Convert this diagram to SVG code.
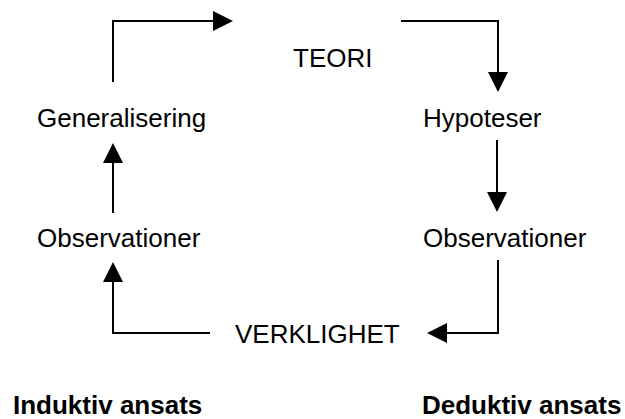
<svg xmlns="http://www.w3.org/2000/svg" width="625" height="419" viewBox="0 0 625 419">
  <style>
    .lbl { font-family: "Liberation Sans", Arial, sans-serif; font-size: 26px; fill: #000; }
    .head { font-family: "Liberation Sans", Arial, sans-serif; font-size: 26px; font-weight: bold; fill: #000; }
    .conn { fill: none; stroke: #000; stroke-width: 2; marker-end: url(#arrow); }
  </style>
  <defs>
    <!-- solid triangular arrowhead, 20 x 20, starting where the line ends -->
    <marker id="arrow" markerUnits="userSpaceOnUse" markerWidth="20" markerHeight="20" refX="0" refY="10" orient="auto">
      <path d="M0,0 L20,10 L0,20 Z" fill="#000"/>
    </marker>
  </defs>
  <rect width="625" height="419" fill="#fff"/>

  <g id="connectors">
    <path class="conn" d="M113,82 V21 H213"/>
    <path class="conn" d="M401,21 H498 V72"/>
    <path class="conn" d="M113,213 V163"/>
    <path class="conn" d="M497,140 V192"/>
    <path class="conn" d="M210,333 H113 V282"/>
    <path class="conn" d="M498,260 V333 H447"/>
  </g>

  <g id="teori"><text class="lbl" x="293" y="67">TEORI</text></g>
  <g id="generalisering"><text class="lbl" x="37" y="127">Generalisering</text></g>
  <g id="hypoteser"><text class="lbl" x="423" y="127">Hypoteser</text></g>
  <g id="observationer-ind"><text class="lbl" x="37" y="247">Observationer</text></g>
  <g id="observationer-ded"><text class="lbl" x="423" y="247">Observationer</text></g>
  <g id="verklighet"><text class="lbl" x="235" y="343">VERKLIGHET</text></g>
  <g id="induktiv"><text class="head" x="13" y="414">Induktiv ansats</text></g>
  <g id="deduktiv"><text class="head" x="422" y="414">Deduktiv ansats</text></g>
</svg>
